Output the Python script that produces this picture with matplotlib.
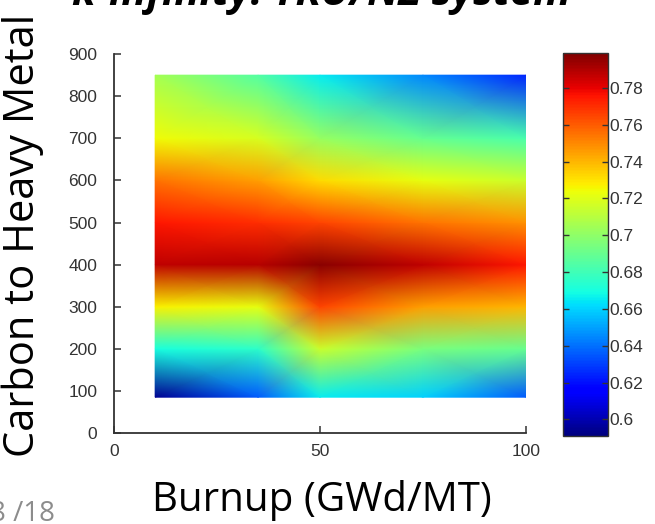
import numpy as np
import matplotlib
matplotlib.use("Agg")
from matplotlib import pyplot as plt

# k-infinity map, burnup vs carbon to heavy metal ratio
burnup = [10, 35, 50, 75, 100]                      # GWd/MT
c_hm = [85, 200, 300, 400, 500, 600, 700, 850]      # carbon / heavy metal

# rows follow c_hm, columns follow burnup
kinf_85 = [0.595, 0.635, 0.665, 0.660, 0.635]
kinf_200 = [0.670, 0.675, 0.715, 0.695, 0.690]
kinf_300 = [0.727, 0.722, 0.765, 0.745, 0.740]
kinf_400 = [0.787, 0.789, 0.797, 0.787, 0.775]
kinf_500 = [0.775, 0.770, 0.765, 0.755, 0.748]
kinf_600 = [0.755, 0.745, 0.732, 0.722, 0.715]
kinf_700 = [0.725, 0.718, 0.702, 0.690, 0.682]
kinf_850 = [0.705, 0.685, 0.665, 0.645, 0.625]

cbar_ticks = [0.6, 0.62, 0.64, 0.66, 0.68, 0.7, 0.72, 0.74, 0.76, 0.78]
cbar_labels = ["0.6", "0.62", "0.64", "0.66", "0.68", "0.7", "0.72", "0.74", "0.76", "0.78"]

K = np.array([kinf_85, kinf_200, kinf_300, kinf_400, kinf_500, kinf_600, kinf_700, kinf_850])
X, Y = np.meshgrid(burnup, c_hm)

tick_font = dict(family=["Liberation Sans Narrow", "Liberation Sans", "DejaVu Sans"], size=12.5, color="#333333")
slide_font = ["Open Sans", "DejaVu Sans"]

fig = plt.figure(figsize=(6.55, 5.24), dpi=100)
ax = fig.add_axes([0.174, 0.1737, 0.629, 0.723])
cax = fig.add_axes([0.8595, 0.168, 0.0687, 0.731])

pc = ax.pcolormesh(X, Y, K, shading="gouraud", cmap="jet", vmin=0.591, vmax=0.799)

ax.set_xlim(0, 100)
ax.set_ylim(0, 900)
ax.set_xticks([0, 50, 100])
ax.set_yticks(range(0, 901, 100))
for s in ["top", "right"]:
    ax.spines[s].set_visible(False)
for s in ["left", "bottom"]:
    ax.spines[s].set_color("#333333")
    ax.spines[s].set_linewidth(1.3)
ax.tick_params(direction="in", length=5, width=1.1, color="#333333")
ax.tick_params(axis="y", pad=12)
ax.tick_params(axis="x", pad=8)
for lab in ax.get_xticklabels() + ax.get_yticklabels():
    lab.set(**tick_font)

cb = fig.colorbar(pc, cax=cax)
cb.set_ticks(cbar_ticks)
cb.set_ticklabels(cbar_labels)
cb.outline.set_linewidth(1.0)
cb.outline.set_edgecolor("#333333")
cax.tick_params(direction="in", length=4, width=1.0, color="#333333", left=True, right=True, pad=1)
for lab in cax.get_yticklabels():
    lab.set(**tick_font)

# slide-style labels
fig.text(0.034, 0.551, "Carbon to Heavy Metal", rotation=90, ha="center", va="center",
         fontsize=30, family=slide_font, color="black")
fig.text(0.492, 0.044, "Burnup (GWd/MT)", ha="center", va="center",
         fontsize=29, family=slide_font, color="black")
fig.text(0.49, 0.99, "k-infinity: TRU/NZ system", ha="center", va="baseline",
         fontsize=30, fontweight="bold", fontstyle="italic", family=slide_font)
fig.text(-0.016, -0.008, "8 /18", ha="left", va="bottom", fontsize=20,
         family=slide_font, color="#8c8c8c")

fig.savefig("out.png", dpi=100)
